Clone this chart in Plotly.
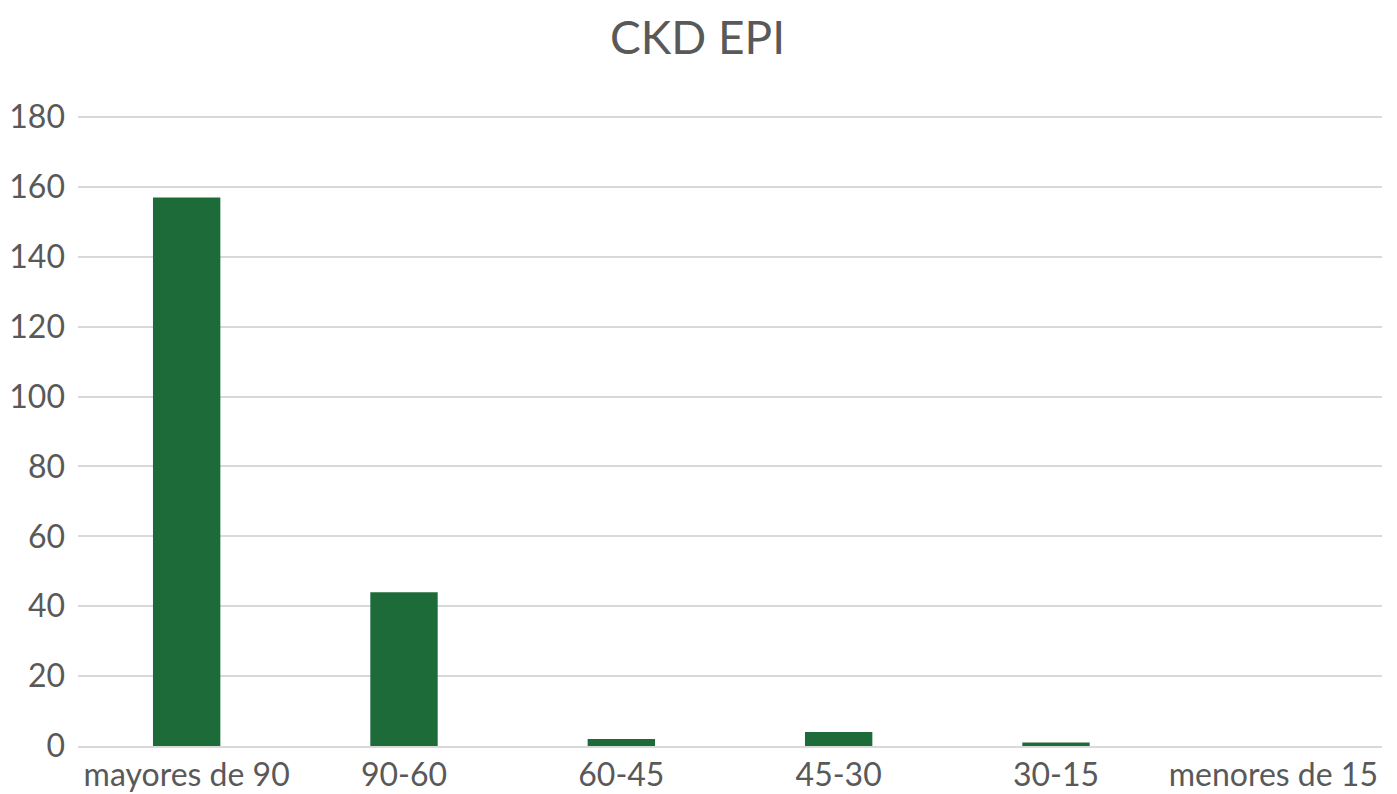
import plotly.graph_objects as go

categories = ["mayores de 90", "90-60", "60-45", "45-30", "30-15", "menores de 15"]
values = [157, 44, 2, 4, 1, 0]
y_ticks = [0, 20, 40, 60, 80, 100, 120, 140, 160, 180]

fig = go.Figure(go.Bar(x=categories, y=values, marker=dict(color="#1e6b3a", line=dict(width=0)), width=0.31))

fig.update_layout(
    width=1397, height=794,
    paper_bgcolor="white", plot_bgcolor="white",
    margin=dict(l=78, r=15, t=116, b=48, autoexpand=False),
    title=dict(text="CKD EPI", x=697.5 / 1397, xanchor="center", y=1 - 38 / 794, yanchor="middle",
               font=dict(family="Lato, Open Sans, sans-serif", size=46, color="#595959")),
    font=dict(family="Lato, Open Sans, sans-serif", size=32, color="#595959"),
    showlegend=False,
    bargap=0.69,
)
fig.update_yaxes(range=[0, 180.3], tickvals=y_ticks, showgrid=True, gridcolor="#d9d9d9", gridwidth=2,
                 zeroline=False, showline=False, ticks="", ticklabelstandoff=12, automargin=False)
fig.update_xaxes(showline=True, linecolor="#d9d9d9", linewidth=2, ticks="", showgrid=False,
                 automargin=False, ticklabelstandoff=0)

# remove the page's default body margin so the figure fills the window exactly
fig.write_html("out.html", config={"displayModeBar": False},
               post_script="document.body.style.margin='0';document.body.style.overflow='hidden';")
